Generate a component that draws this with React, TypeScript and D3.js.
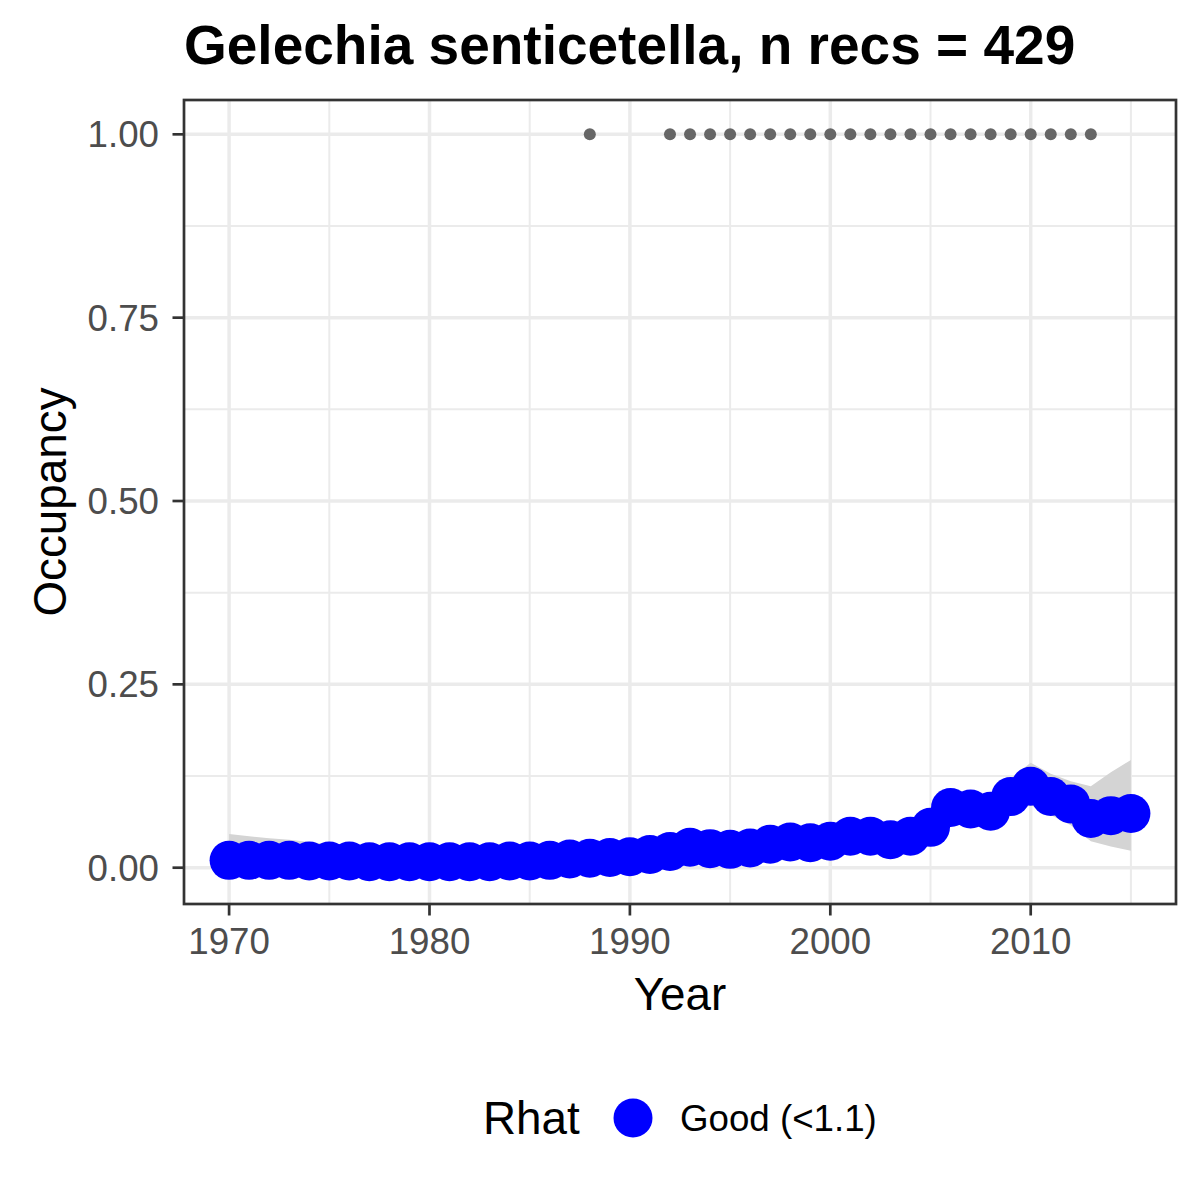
import * as d3 from "d3";

// modelled occupancy per year
const years = [
  1970, 1971, 1972, 1973, 1974, 1975, 1976, 1977, 1978, 1979,
  1980, 1981, 1982, 1983, 1984, 1985, 1986, 1987, 1988, 1989,
  1990, 1991, 1992, 1993, 1994, 1995, 1996, 1997, 1998, 1999,
  2000, 2001, 2002, 2003, 2004, 2005, 2006, 2007, 2008, 2009,
  2010, 2011, 2012, 2013, 2014, 2015,
];
const occupancy = [
  0.010, 0.010, 0.010, 0.010, 0.009, 0.009, 0.009, 0.008, 0.008, 0.008,
  0.008, 0.008, 0.008, 0.008, 0.009, 0.009, 0.010, 0.012, 0.013, 0.014,
  0.015, 0.018, 0.022, 0.028, 0.026, 0.025, 0.027, 0.032, 0.035, 0.034,
  0.036, 0.043, 0.043, 0.038, 0.043, 0.055, 0.082, 0.080, 0.077, 0.097,
  0.111, 0.097, 0.087, 0.067, 0.071, 0.074,
];
const lower95 = [
  0.000, 0.001, 0.002, 0.002, 0.002, 0.002, 0.002, 0.002, 0.002, 0.002,
  0.002, 0.003, 0.003, 0.003, 0.003, 0.003, 0.004, 0.005, 0.006, 0.007,
  0.008, 0.010, 0.013, 0.019, 0.017, 0.016, 0.018, 0.023, 0.026, 0.025,
  0.027, 0.033, 0.032, 0.027, 0.031, 0.042, 0.068, 0.064, 0.058, 0.074,
  0.085, 0.072, 0.058, 0.036, 0.029, 0.023,
];
const upper95 = [
  0.046, 0.043, 0.040, 0.038, 0.035, 0.032, 0.030, 0.027, 0.025, 0.023,
  0.021, 0.020, 0.019, 0.019, 0.019, 0.019, 0.020, 0.021, 0.022, 0.023,
  0.024, 0.027, 0.031, 0.037, 0.035, 0.034, 0.036, 0.041, 0.044, 0.044,
  0.046, 0.053, 0.054, 0.049, 0.055, 0.068, 0.096, 0.098, 0.098, 0.122,
  0.143, 0.128, 0.118, 0.111, 0.130, 0.147,
];
// years with records (plotted at occupancy 1)
const recordYears = [
  1988, 1992, 1993, 1994, 1995, 1996, 1997, 1998, 1999, 2000, 2001,
  2002, 2003, 2004, 2005, 2006, 2007, 2008, 2009, 2010, 2011, 2012, 2013,
];
const xTicks = [1970, 1980, 1990, 2000, 2010];
const xMinor = [1975, 1985, 1995, 2005, 2015];
const yTicks = [0, 0.25, 0.5, 0.75, 1];
const yMinor = [0.125, 0.375, 0.625, 0.875];
const yTickLabels = ["0.00", "0.25", "0.50", "0.75", "1.00"];

const title = "Gelechia senticetella, n recs = 429";
const font = "'Liberation Sans', Arial, sans-serif";

export default function App() {
  const left = 184, right = 1176, top = 100, bottom = 904;
  const x = d3.scaleLinear([1967.75, 2017.25], [left, right]);
  const y = d3.scaleLinear([-0.0495, 1.0468], [bottom, top]);

  const rows = years.map((yr, i) => ({ yr, m: occupancy[i], lo: lower95[i], hi: upper95[i] }));
  const ribbon = d3.area<any>().x(d => x(d.yr)).y0(d => y(d.lo)).y1(d => y(d.hi))(rows);

  return (
    <svg width={1200} height={1200} style={{ position: "absolute", left: 0, top: 0, background: "#fff" }} fontFamily={font}>
      <rect width={1200} height={1200} fill="#fff" />
      <text x={left} y={64} fontSize={55} fontWeight="bold" fill="#000">{title}</text>

      {/* grid */}
      <g stroke="#ebebeb">
        {xMinor.map(v => <line key={"xm" + v} x1={x(v)} x2={x(v)} y1={top} y2={bottom} strokeWidth={2} />)}
        {yMinor.map(v => <line key={"ym" + v} y1={y(v)} y2={y(v)} x1={left} x2={right} strokeWidth={2} />)}
        {xTicks.map(v => <line key={"xM" + v} x1={x(v)} x2={x(v)} y1={top} y2={bottom} strokeWidth={3.5} />)}
        {yTicks.map(v => <line key={"yM" + v} y1={y(v)} y2={y(v)} x1={left} x2={right} strokeWidth={3.5} />)}
      </g>

      <path d={ribbon ?? ""} fill="#d4d4d4" />
      <g fill="#0000ff">
        {rows.map(d => <circle key={d.yr} cx={x(d.yr)} cy={y(d.m)} r={19.5} />)}
      </g>
      <g fill="#666666">
        {recordYears.map(v => <circle key={v} cx={x(v)} cy={y(1)} r={6} />)}
      </g>

      <rect x={left} y={top} width={right - left} height={bottom - top} fill="none" stroke="#333333" strokeWidth={2.7} />

      {/* axes */}
      <g stroke="#333333" strokeWidth={2.7}>
        {xTicks.map(v => <line key={v} x1={x(v)} x2={x(v)} y1={bottom} y2={bottom + 11.5} />)}
        {yTicks.map(v => <line key={v} x1={left - 11.5} x2={left} y1={y(v)} y2={y(v)} />)}
      </g>
      <g fill="#4d4d4d" fontSize={36.7}>
        {xTicks.map(v => <text key={v} x={x(v)} y={954} textAnchor="middle">{v}</text>)}
        {yTicks.map((v, i) => <text key={v} x={159} y={y(v) + 13} textAnchor="end">{yTickLabels[i]}</text>)}
      </g>
      <text x={(left + right) / 2} y={1010} fontSize={45.8} textAnchor="middle" fill="#000">Year</text>
      <text transform={`translate(66,${(top + bottom) / 2}) rotate(-90)`} fontSize={45.8} textAnchor="middle" fill="#000">Occupancy</text>

      {/* legend */}
      <text x={483} y={1134} fontSize={45.8} fill="#000">Rhat</text>
      <circle cx={633} cy={1118} r={19.5} fill="#0000ff" />
      <text x={680} y={1131} fontSize={36.7} fill="#000">Good (&lt;1.1)</text>
    </svg>
  );
}
